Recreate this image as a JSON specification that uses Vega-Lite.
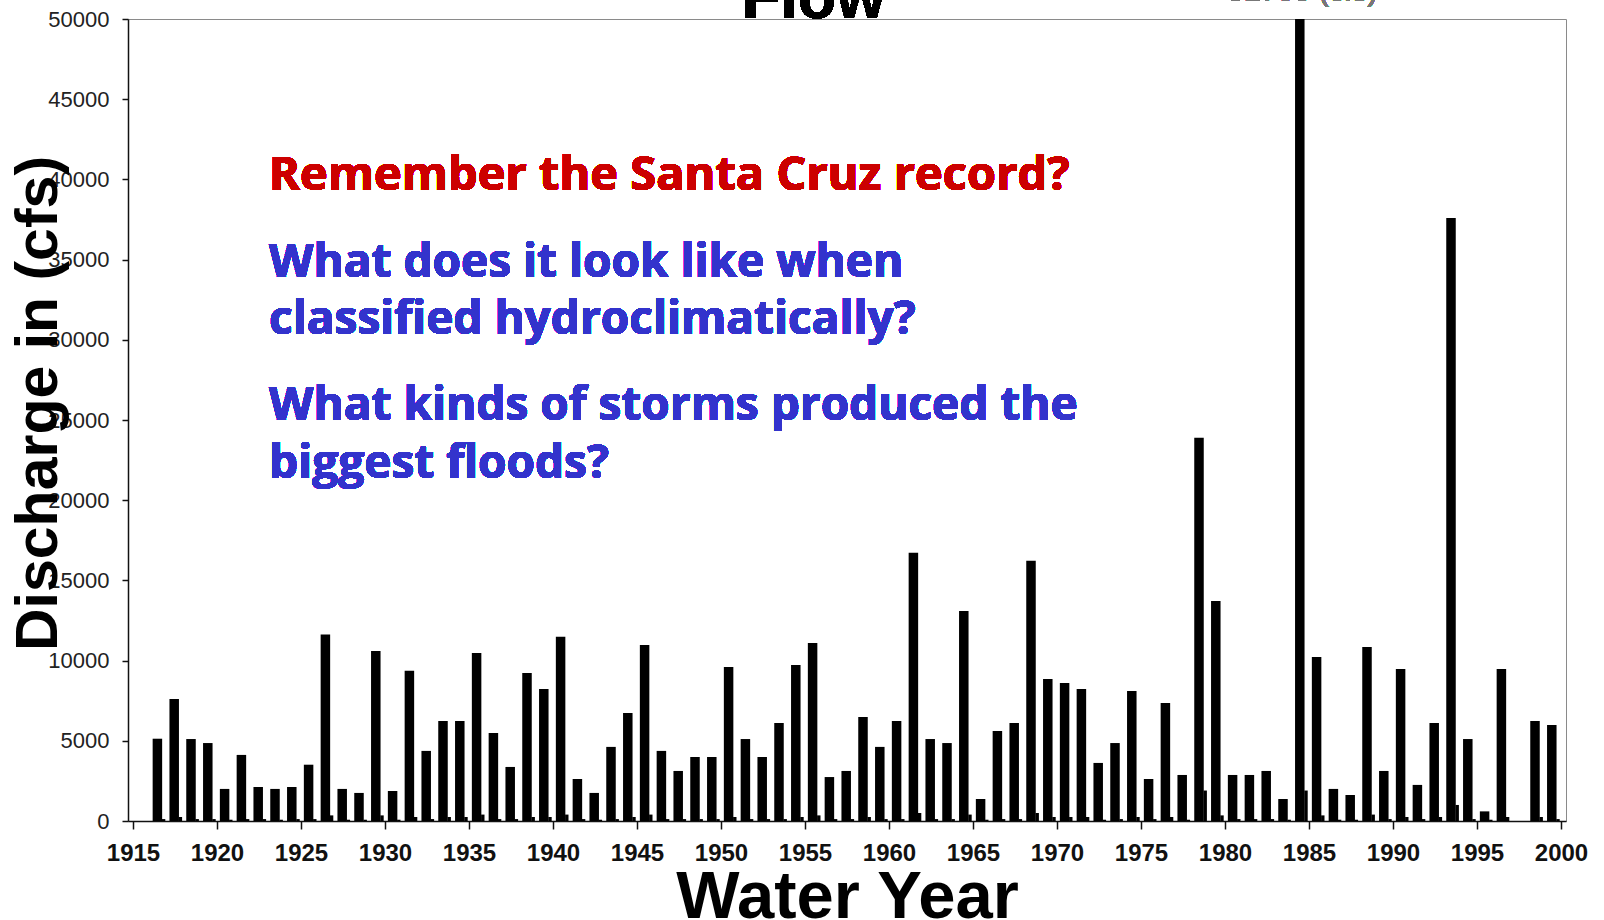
{
  "$schema": "https://vega.github.io/schema/vega-lite/v6.json",
  "autosize": {"type": "none"},
  "width": 1438,
  "height": 802,
  "padding": {"left": 128, "top": 19, "right": 38, "bottom": 99},
  "background": "white",
  "config": {
    "view": {"stroke": "#8a8a8a", "strokeWidth": 1},
    "font": "Liberation Sans"
  },
  "data": {
    "values": [
      {"year": 1916, "peak": 5130, "minor": 120},
      {"year": 1917, "peak": 7610, "minor": 250},
      {"year": 1918, "peak": 5110, "minor": 120},
      {"year": 1919, "peak": 4860, "minor": 120},
      {"year": 1920, "peak": 2000, "minor": 80},
      {"year": 1921, "peak": 4120, "minor": 120},
      {"year": 1922, "peak": 2120, "minor": 120},
      {"year": 1923, "peak": 2000, "minor": 80},
      {"year": 1924, "peak": 2120, "minor": 120},
      {"year": 1925, "peak": 3510, "minor": 120},
      {"year": 1926, "peak": 11620, "minor": 350},
      {"year": 1927, "peak": 2000, "minor": 80},
      {"year": 1928, "peak": 1750, "minor": 80},
      {"year": 1929, "peak": 10600, "minor": 350},
      {"year": 1930, "peak": 1870, "minor": 80},
      {"year": 1931, "peak": 9360, "minor": 250},
      {"year": 1932, "peak": 4370, "minor": 120},
      {"year": 1933, "peak": 6240, "minor": 250},
      {"year": 1934, "peak": 6240, "minor": 250},
      {"year": 1935, "peak": 10480, "minor": 400},
      {"year": 1936, "peak": 5490, "minor": 120},
      {"year": 1937, "peak": 3370, "minor": 120},
      {"year": 1938, "peak": 9230, "minor": 250},
      {"year": 1939, "peak": 8230, "minor": 250},
      {"year": 1940, "peak": 11480, "minor": 400},
      {"year": 1941, "peak": 2620, "minor": 120},
      {"year": 1942, "peak": 1750, "minor": 80},
      {"year": 1943, "peak": 4620, "minor": 120},
      {"year": 1944, "peak": 6740, "minor": 250},
      {"year": 1945, "peak": 10980, "minor": 400},
      {"year": 1946, "peak": 4370, "minor": 120},
      {"year": 1947, "peak": 3120, "minor": 120},
      {"year": 1948, "peak": 3990, "minor": 120},
      {"year": 1949, "peak": 3990, "minor": 120},
      {"year": 1950, "peak": 9600, "minor": 250},
      {"year": 1951, "peak": 5110, "minor": 120},
      {"year": 1952, "peak": 3990, "minor": 120},
      {"year": 1953, "peak": 6110, "minor": 120},
      {"year": 1954, "peak": 9730, "minor": 250},
      {"year": 1955, "peak": 11100, "minor": 350},
      {"year": 1956, "peak": 2740, "minor": 120},
      {"year": 1957, "peak": 3120, "minor": 120},
      {"year": 1958, "peak": 6490, "minor": 250},
      {"year": 1959, "peak": 4620, "minor": 120},
      {"year": 1960, "peak": 6240, "minor": 120},
      {"year": 1961, "peak": 16720, "minor": 500},
      {"year": 1962, "peak": 5110, "minor": 120},
      {"year": 1963, "peak": 4860, "minor": 120},
      {"year": 1964, "peak": 13100, "minor": 400},
      {"year": 1965, "peak": 1370, "minor": 80},
      {"year": 1966, "peak": 5610, "minor": 120},
      {"year": 1967, "peak": 6110, "minor": 120},
      {"year": 1968, "peak": 16220, "minor": 500},
      {"year": 1969, "peak": 8860, "minor": 250},
      {"year": 1970, "peak": 8610, "minor": 250},
      {"year": 1971, "peak": 8230, "minor": 250},
      {"year": 1972, "peak": 3620, "minor": 80},
      {"year": 1973, "peak": 4860, "minor": 120},
      {"year": 1974, "peak": 8110, "minor": 250},
      {"year": 1975, "peak": 2620, "minor": 120},
      {"year": 1976, "peak": 7360, "minor": 250},
      {"year": 1977, "peak": 2870, "minor": 80},
      {"year": 1978, "peak": 23900, "minor": 1900},
      {"year": 1979, "peak": 13720, "minor": 350},
      {"year": 1980, "peak": 2870, "minor": 120},
      {"year": 1981, "peak": 2870, "minor": 120},
      {"year": 1982, "peak": 3120, "minor": 120},
      {"year": 1983, "peak": 1370, "minor": 80},
      {"year": 1984, "peak": 51700, "minor": 1900},
      {"year": 1985, "peak": 10230, "minor": 350},
      {"year": 1986, "peak": 2000, "minor": 80},
      {"year": 1987, "peak": 1620, "minor": 80},
      {"year": 1988, "peak": 10850, "minor": 400},
      {"year": 1989, "peak": 3120, "minor": 120},
      {"year": 1990, "peak": 9480, "minor": 250},
      {"year": 1991, "peak": 2250, "minor": 120},
      {"year": 1992, "peak": 6110, "minor": 250},
      {"year": 1993, "peak": 37600, "minor": 1000},
      {"year": 1994, "peak": 5110, "minor": 120},
      {"year": 1995, "peak": 600, "minor": 80},
      {"year": 1996, "peak": 9480, "minor": 250},
      {"year": 1998, "peak": 6240, "minor": 250},
      {"year": 1999, "peak": 5990, "minor": 120}
    ]
  },
  "encoding": {
    "x": {
      "field": "year",
      "type": "quantitative",
      "scale": {"domain": [1915, 2000], "nice": false, "zero": false},
      "axis": {
        "values": [1915, 1920, 1925, 1930, 1935, 1940, 1945, 1950, 1955, 1960, 1965, 1970, 1975, 1980, 1985, 1990, 1995, 2000],
        "format": "d",
        "grid": false,
        "domainColor": "#111",
        "domainWidth": 1.5,
        "tickColor": "#111",
        "tickSize": 8,
        "tickWidth": 1.5,
        "labelFont": "Liberation Sans",
        "labelFontSize": 24,
        "labelFontWeight": "bold",
        "labelColor": "#111",
        "labelDx": 12,
        "labelPadding": 12,
        "labelFlush": false,
        "labelOverlap": false,
        "title": "Water Year",
        "titleFont": "Liberation Sans",
        "titleFontSize": 67,
        "titleFontWeight": "bold",
        "titleColor": "#000",
        "titleBaseline": "alphabetic",
        "titleY": 96
      }
    }
  },
  "layer": [
    {
      "mark": {"type": "bar", "color": "#000", "width": 9.5, "xOffset": 7.6, "clip": true},
      "encoding": {
        "y": {
          "field": "peak",
          "type": "quantitative",
          "scale": {"domain": [0, 50000], "nice": false},
          "axis": {
            "values": [0, 5000, 10000, 15000, 20000, 25000, 30000, 35000, 40000, 45000, 50000],
            "format": "d",
            "grid": false,
            "domainColor": "#111",
            "domainWidth": 1.5,
            "tickColor": "#111",
            "tickSize": 6,
            "tickWidth": 1.5,
            "labelFont": "Liberation Sans",
            "labelFontSize": 22,
            "labelColor": "#222",
            "labelPadding": 13,
            "labelFlush": false,
            "labelOverlap": false,
            "title": "Discharge in  (cfs)",
            "titleFont": "Liberation Sans",
            "titleFontSize": 59,
            "titleFontWeight": "bold",
            "titleColor": "#000",
            "titleAngle": -90,
            "titleAlign": "center",
            "titleBaseline": "alphabetic",
            "titleX": -72,
            "titleY": 384
          }
        }
      }
    },
    {
      "mark": {"type": "bar", "color": "#000", "width": 3.4, "xOffset": 13.8, "clip": true},
      "encoding": {"y": {"field": "minor", "type": "quantitative"}}
    },
    {
      "mark": {"type": "text", "text": "Flow", "font": "Liberation Sans", "fontSize": 63, "fontWeight": "bold", "align": "center", "baseline": "alphabetic", "color": "#000"},
      "encoding": {"x": {"datum": 1955.5, "type": "quantitative"}, "y": {"datum": 50060, "type": "quantitative"}}
    },
    {
      "mark": {"type": "text", "text": "51700 (cfs)", "font": "Liberation Sans", "fontSize": 30, "align": "center", "baseline": "alphabetic", "color": "#777"},
      "encoding": {"x": {"datum": 1984.6, "type": "quantitative"}, "y": {"datum": 51150, "type": "quantitative"}}
    },
    {
      "mark": {"type": "text", "text": "Remember the Santa Cruz record?", "font": "Open Sans", "fontSize": 47, "fontWeight": "bold", "align": "left", "baseline": "alphabetic", "color": "#cc0000"},
      "encoding": {"x": {"datum": 1923.1, "type": "quantitative"}, "y": {"datum": 39360, "type": "quantitative"}}
    },
    {
      "mark": {"type": "text", "text": ["What does it look like when", "classified hydroclimatically?"], "lineHeight": 57.5, "font": "Open Sans", "fontSize": 46, "fontWeight": "bold", "align": "left", "baseline": "alphabetic", "color": "#3333cc"},
      "encoding": {"x": {"datum": 1923.1, "type": "quantitative"}, "y": {"datum": 33930, "type": "quantitative"}}
    },
    {
      "mark": {"type": "text", "text": ["What kinds of storms produced the", "biggest floods?"], "lineHeight": 57.5, "font": "Open Sans", "fontSize": 46, "fontWeight": "bold", "align": "left", "baseline": "alphabetic", "color": "#3333cc"},
      "encoding": {"x": {"datum": 1923.1, "type": "quantitative"}, "y": {"datum": 24980, "type": "quantitative"}}
    }
  ]
}
